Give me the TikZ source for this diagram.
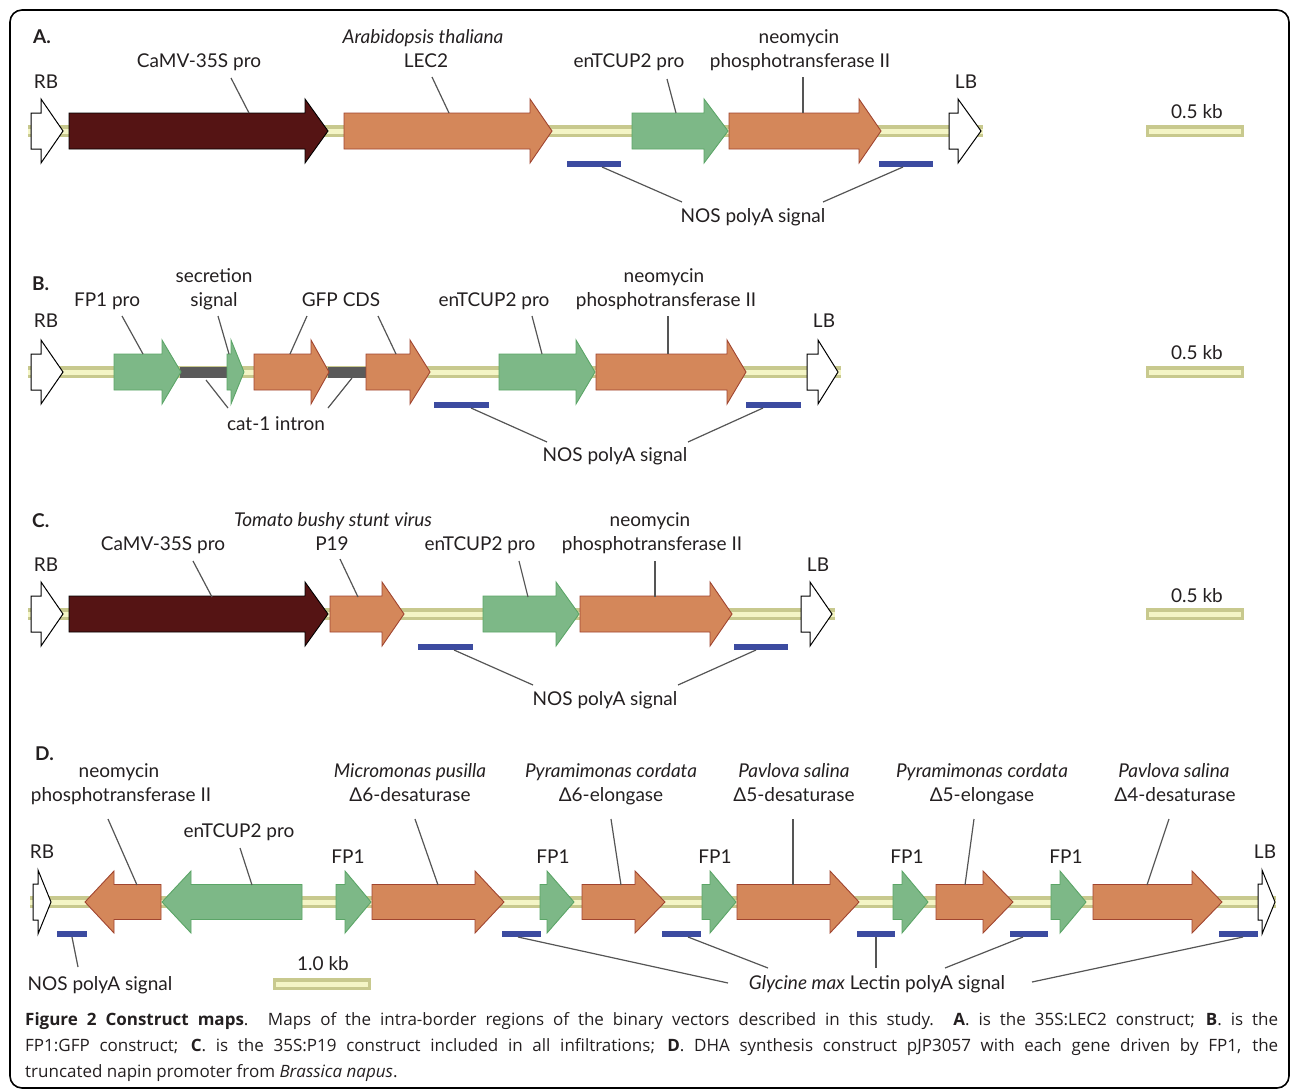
\documentclass[tikz,border=0pt]{standalone}
\usepackage{fontspec}
\setmainfont{Lato}
\newfontfamily\CapFont{Open Sans}
\definecolor{maroonc}{HTML}{551414}
\definecolor{orfill}{HTML}{D4875A}
\definecolor{ordraw}{HTML}{A04530}
\definecolor{grfill}{HTML}{7DB887}
\definecolor{grdraw}{HTML}{5BA567}
\definecolor{bbout}{HTML}{C8C98E}
\definecolor{bbin}{HTML}{F4F5C6}
\definecolor{bluebar}{HTML}{3C4BA0}
\definecolor{intronc}{HTML}{5A5A5A}
\definecolor{leadc}{HTML}{555555}
\definecolor{txtc}{HTML}{231F20}
\newcommand{\LabFont}{\fontsize{19}{22}\selectfont}
\newcommand{\GeneArrow}[7]{%
  \path[#1] (#2,#5-#6) -- (#3,#5-#6) -- (#3,#5-#7) -- (#4,#5) -- (#3,#5+#7) -- (#3,#5+#6) -- (#2,#5+#6) -- cycle;}
\newcommand{\Backbone}[3]{%
  \fill[bbout] (#1,#3-6) rectangle (#2,#3+6);
  \fill[bbin] (#1,#3-2.5) rectangle (#2,#3+2.5);}
\newcommand{\ScaleBar}[3]{%
  \fill[bbout] (#1,#3-6) rectangle (#2,#3+6);
  \fill[bbin] (#1+3,#3-2.5) rectangle (#2-3,#3+2.5);}
\newcommand{\Leader}[5]{%
  \coordinate (#1-s) at (#2,#3); \coordinate (#1-e) at (#4,#5);
  \draw[lead] (#1-s) -- (#1-e);}
\begin{document}
\begin{tikzpicture}[x=1pt,y=-1pt,
  lbl/.style={font=\LabFont, text=txtc, inner sep=0pt, anchor=base},
  lead/.style={draw=leadc, line width=1.2pt},
  gorange/.style={fill=orfill, draw=ordraw, line width=0.9pt, line join=miter},
  ggreen/.style={fill=grfill, draw=grdraw, line width=0.9pt, line join=miter},
  gmaroon/.style={fill=maroonc, draw=black, line width=0.9pt, line join=miter},
  gborder/.style={fill=white, draw=black, line width=1pt, line join=miter},
  polya/.style={fill=bluebar},
  intron/.style={fill=intronc}]
\useasboundingbox (0,0) rectangle (1290,1090);
\draw[line width=1.6pt, rounded corners=12pt] (10,10) rectangle (1289,1088);

% ---------------- Panel A ----------------
\Backbone{28}{983}{131}
\GeneArrow{gborder}{31}{41}{63}{131}{18}{32}
\GeneArrow{gmaroon}{69}{305}{328}{131}{18}{32}
\GeneArrow{gorange}{344}{530}{552}{131}{18}{32}
\GeneArrow{ggreen}{632}{704}{728}{131}{18}{32}
\GeneArrow{gorange}{729}{859}{881}{131}{18}{32}
\GeneArrow{gborder}{949}{958}{981}{131}{18}{32}
\fill[polya] (567,161) rectangle (621,167);
\fill[polya] (879,161) rectangle (933,167);
\ScaleBar{1146}{1244}{131}
\node[lbl, anchor=base west] (aPanel) at (33,43) {\bfseries A.};
\node[lbl] (aRB) at (46,88) {RB};
\node[lbl] (aCaMV) at (199,67) {CaMV-35S pro};
\node[lbl] (aAra) at (423,43) {\itshape Arabidopsis thaliana};
\node[lbl] (aLEC) at (426,67) {LEC2};
\node[lbl] (aTCUP) at (629,67) {enTCUP2 pro};
\node[lbl] (aNeo) at (799,43) {neomycin};
\node[lbl] (aNpt) at (800,67) {phosphotransferase II};
\node[lbl] (aLB) at (966,88) {LB};
\node[lbl] (aNOS) at (753,222) {NOS polyA signal};
\node[lbl] (aScale) at (1197,118) {0.5 kb};
\Leader{aL1}{231}{78}{249}{113}
\Leader{aL2}{432}{77}{449}{113}
\Leader{aL3}{667}{79}{676}{113}
\Leader{aL4}{803}{77}{803}{113}
\Leader{aL5}{602}{167}{682}{202}
\Leader{aL6}{903}{167}{823}{202}

% ---------------- Panel B ----------------
\Backbone{28}{841}{372}
\GeneArrow{gborder}{31}{41}{63}{372}{18}{32}
\fill[intron] (180,366.5) rectangle (229,377.5);
\fill[intron] (328,366.5) rectangle (367,377.5);
\GeneArrow{ggreen}{114}{162}{181}{372}{18}{32}
\GeneArrow{ggreen}{227}{231}{244}{372}{18}{32}
\GeneArrow{gorange}{254}{311}{329}{372}{18}{32}
\GeneArrow{gorange}{366}{410}{430}{372}{18}{32}
\GeneArrow{ggreen}{499}{576}{595}{372}{18}{32}
\GeneArrow{gorange}{596}{727}{746}{372}{18}{32}
\GeneArrow{gborder}{807}{818}{838}{372}{18}{32}
\fill[polya] (434,402) rectangle (489,408);
\fill[polya] (746,402) rectangle (801,408);
\ScaleBar{1146}{1244}{372}
\node[lbl, anchor=base west] (bPanel) at (32,290) {\bfseries B.};
\node[lbl] (bRB) at (46,327) {RB};
\node[lbl] (bFP1) at (107,306) {FP1 pro};
\node[lbl] (bSec1) at (214,282) {secretion};
\node[lbl] (bSec2) at (214,306) {signal};
\node[lbl] (bGFP) at (341,306) {GFP CDS};
\node[lbl] (bCat) at (276,430) {cat-1 intron};
\node[lbl] (bTCUP) at (494,306) {enTCUP2 pro};
\node[lbl] (bNeo) at (664,282) {neomycin};
\node[lbl] (bNpt) at (666,306) {phosphotransferase II};
\node[lbl] (bLB) at (824,327) {LB};
\node[lbl] (bNOS) at (615,461) {NOS polyA signal};
\node[lbl] (bScale) at (1197,359) {0.5 kb};
\Leader{bL1}{122}{316}{143}{354}
\Leader{bL2}{218}{316}{229}{354}
\Leader{bL3}{307}{316}{290}{354}
\Leader{bL4}{378}{316}{396}{354}
\Leader{bL5}{206}{380}{228}{408}
\Leader{bL6}{352}{378}{328}{408}
\Leader{bL7}{532}{316}{542}{354}
\Leader{bL8}{668}{316}{668}{354}
\Leader{bL9}{471}{408}{547}{442}
\Leader{bL10}{763}{408}{688}{442}

% ---------------- Panel C ----------------
\Backbone{28}{835}{614}
\GeneArrow{gborder}{31}{41}{63}{614}{18}{32}
\GeneArrow{gmaroon}{69}{305}{328}{614}{18}{32}
\GeneArrow{gorange}{330}{382}{404}{614}{18}{32}
\GeneArrow{ggreen}{483}{556}{579}{614}{18}{32}
\GeneArrow{gorange}{580}{710}{732}{614}{18}{32}
\GeneArrow{gborder}{801}{810}{832}{614}{18}{32}
\fill[polya] (418,644) rectangle (473,650);
\fill[polya] (734,644) rectangle (788,650);
\ScaleBar{1146}{1244}{614}
\node[lbl, anchor=base west] (cPanel) at (32,527) {\bfseries C.};
\node[lbl] (cRB) at (46,571) {RB};
\node[lbl] (cCaMV) at (163,550) {CaMV-35S pro};
\node[lbl] (cTom) at (333,526) {\itshape Tomato bushy stunt virus};
\node[lbl] (cP19) at (332,550) {P19};
\node[lbl] (cTCUP) at (480,550) {enTCUP2 pro};
\node[lbl] (cNeo) at (650,526) {neomycin};
\node[lbl] (cNpt) at (652,550) {phosphotransferase II};
\node[lbl] (cLB) at (818,571) {LB};
\node[lbl] (cNOS) at (605,705) {NOS polyA signal};
\node[lbl] (cScale) at (1197,602) {0.5 kb};
\Leader{cL1}{193}{561}{212}{597}
\Leader{cL2}{340}{559}{358}{597}
\Leader{cL3}{519}{561}{528}{597}
\Leader{cL4}{655}{561}{655}{597}
\Leader{cL5}{454}{650}{533}{685}
\Leader{cL6}{756}{650}{678}{685}

% ---------------- Panel D ----------------
\Backbone{30}{1276}{902}
\GeneArrow{gborder}{33}{38}{51}{902}{18}{32}
\GeneArrow{gorange}{161}{114}{85}{902}{17.5}{31}
\GeneArrow{ggreen}{302}{191}{162}{902}{17.5}{31}
\GeneArrow{ggreen}{336}{345}{371}{902}{17.5}{31}
\GeneArrow{gorange}{372}{475}{504}{902}{17.5}{31}
\GeneArrow{ggreen}{540}{547}{574}{902}{17.5}{31}
\GeneArrow{gorange}{582}{635}{665}{902}{17.5}{31}
\GeneArrow{ggreen}{702}{710}{736}{902}{17.5}{31}
\GeneArrow{gorange}{737}{830}{859}{902}{17.5}{31}
\GeneArrow{ggreen}{893}{902}{928}{902}{17.5}{31}
\GeneArrow{gorange}{936}{983}{1013}{902}{17.5}{31}
\GeneArrow{ggreen}{1051}{1060}{1086}{902}{17.5}{31}
\GeneArrow{gorange}{1093}{1192}{1222}{902}{17.5}{31}
\GeneArrow{gborder}{1258}{1262}{1275}{902}{18}{32}
\fill[polya] (57,931) rectangle (87,937);
\fill[polya] (502,931) rectangle (541,937);
\fill[polya] (662,931) rectangle (701,937);
\fill[polya] (857,931) rectangle (895,937);
\fill[polya] (1010,931) rectangle (1048,937);
\fill[polya] (1219,931) rectangle (1258,937);
\ScaleBar{273}{371}{984}
\node[lbl, anchor=base west] (dPanel) at (35,760) {\bfseries D.};
\node[lbl] (dRB) at (42,858) {RB};
\node[lbl] (dNeo) at (119,777) {neomycin};
\node[lbl] (dNpt) at (121,801) {phosphotransferase II};
\node[lbl] (dTCUP) at (239,837) {enTCUP2 pro};
\node[lbl] (dF1) at (348,863) {FP1};
\node[lbl] (dMic1) at (410,777) {\itshape Micromonas pusilla};
\node[lbl] (dMic2) at (410,801) {Δ6-desaturase};
\node[lbl] (dF2) at (553,863) {FP1};
\node[lbl] (dPy1) at (611,777) {\itshape Pyramimonas cordata};
\node[lbl] (dPy2) at (611,801) {Δ6-elongase};
\node[lbl] (dF3) at (715,863) {FP1};
\node[lbl] (dPa1) at (794,777) {\itshape Pavlova salina};
\node[lbl] (dPa2) at (794,801) {Δ5-desaturase};
\node[lbl] (dF4) at (907,863) {FP1};
\node[lbl] (dPz1) at (982,777) {\itshape Pyramimonas cordata};
\node[lbl] (dPz2) at (982,801) {Δ5-elongase};
\node[lbl] (dF5) at (1066,863) {FP1};
\node[lbl] (dPb1) at (1174,777) {\itshape Pavlova salina};
\node[lbl] (dPb2) at (1175,801) {Δ4-desaturase};
\node[lbl] (dLB) at (1265,858) {LB};
\node[lbl] (dNOS) at (100,990) {NOS polyA signal};
\node[lbl] (dGly) at (877,989) {\itshape Glycine max\upshape{} Lectin polyA signal};
\node[lbl] (dScale) at (323,970) {1.0 kb};
\Leader{dL1}{108}{819}{137}{885}
\Leader{dL2}{240}{848}{252}{885}
\Leader{dL3}{415}{819}{438}{885}
\Leader{dL4}{611}{819}{621}{885}
\Leader{dL5}{793}{819}{793}{885}
\Leader{dL6}{974}{819}{965}{885}
\Leader{dL7}{1169}{819}{1147}{885}
\Leader{dL8}{72}{937}{78}{967}
\Leader{dL9}{518}{937}{728}{983}
\Leader{dL10}{688}{937}{768}{968}
\Leader{dL11}{876}{937}{876}{968}
\Leader{dL12}{1023}{937}{945}{968}
\Leader{dL13}{1243}{937}{1032}{982}

% ---------------- Caption ----------------
\node[anchor=north west, text width=1253pt, align=justify, inner sep=0pt,
      font=\CapFont\fontsize{17}{26}\selectfont, text=txtc] (caption) at (25,1012)
 {\textbf{Figure 2 Construct maps}. Maps of the intra-border regions of the binary vectors described in this study. \textbf{A}. is the 35S:LEC2 construct; \textbf{B}. is the\linebreak
 FP1:GFP construct; \textbf{C}. is the 35S:P19 construct included in all infiltrations; \textbf{D}. DHA synthesis construct pJP3057 with each gene driven by FP1, the\linebreak
 truncated napin promoter from \textit{Brassica napus}.};
\end{tikzpicture}
\end{document}
